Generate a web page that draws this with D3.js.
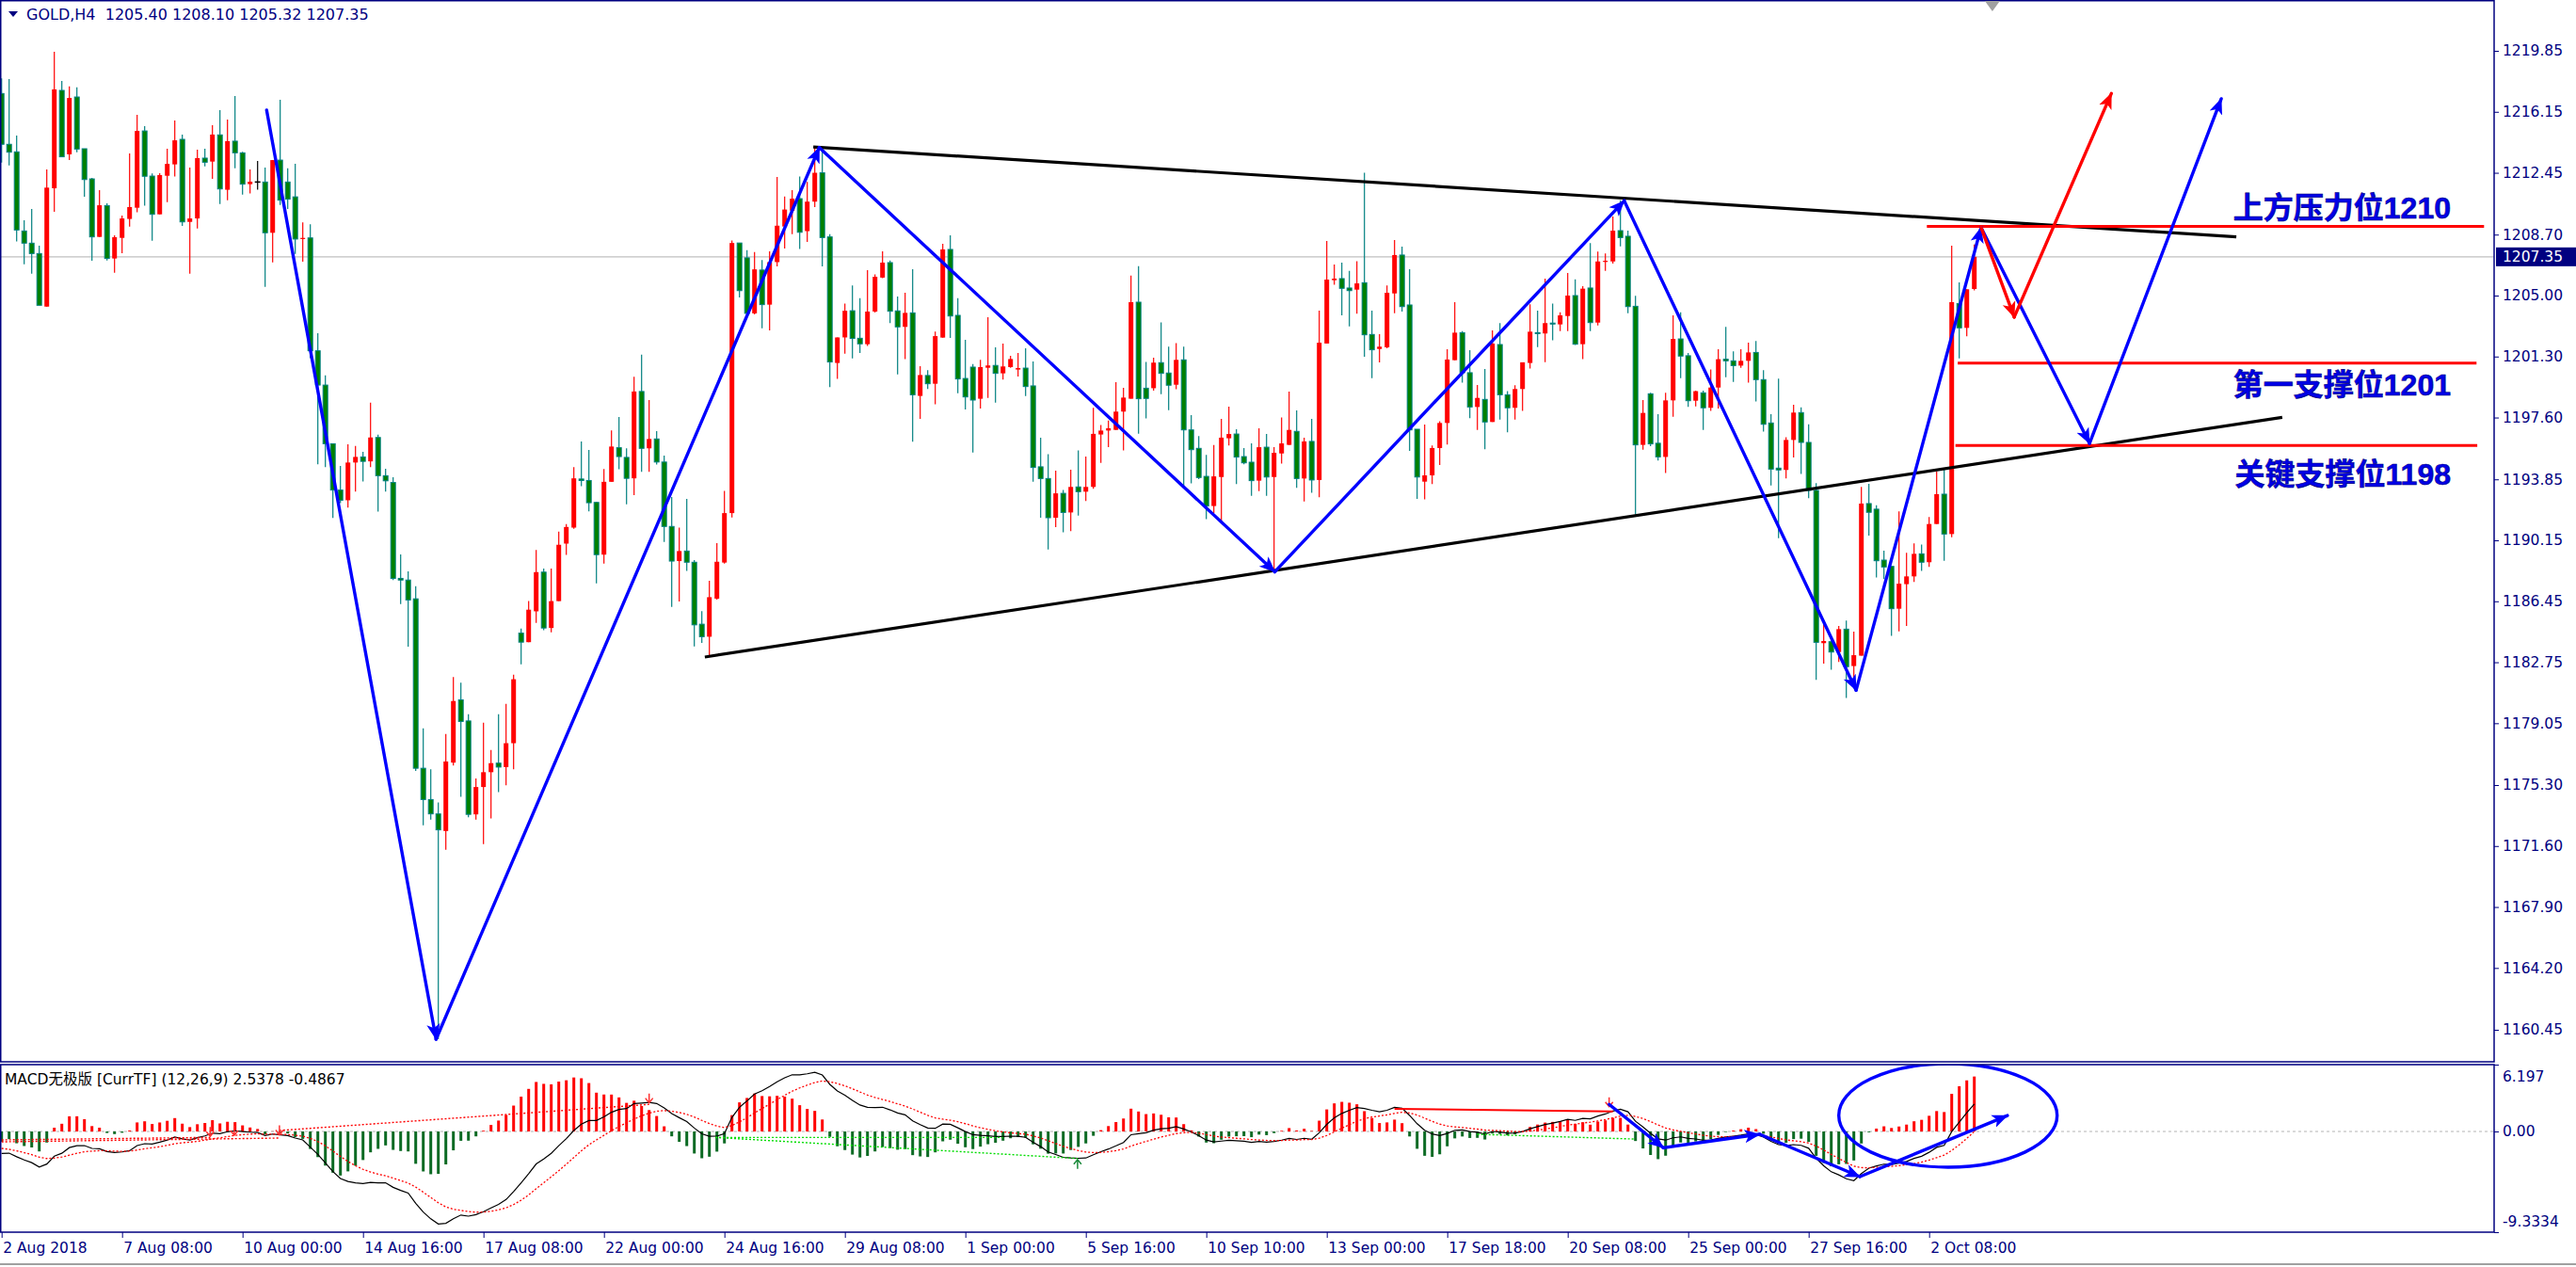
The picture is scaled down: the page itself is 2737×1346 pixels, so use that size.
<!DOCTYPE html>
<html>
<head>
<meta charset="utf-8">
<script src="https://cdn.jsdelivr.net/npm/d3@7"></script>
<style>
  body { margin: 0; background: #fff; }
  svg { display: block; font-family: "DejaVu Sans", sans-serif; }
  .axis text { fill: #000080; font-size: 15.5px; font-family: "DejaVu Sans", sans-serif; }
  .axis line { stroke: #000080; }
  .axis path { display: none; }
</style>
</head>
<body>
<div id="chart"></div>
<script>
//Candles, one entry per H4 bar (2 Aug 16:00 .. 3 Oct 08:00).
const opens = [
1217.26,1214.18,1213.72,1208.92,1208.18,1207.55,1204.33,1211.51,1217.45,1213.57,
1217.05,1213.91,1212.08,1208.56,1210.46,1207.25,1208.50,1209.65,1210.33,1214.99,
1212.25,1209.93,1212.27,1212.96,1214.48,1209.47,1209.68,1213.34,1213.13,1214.75,
1211.42,1214.37,1213.66,1211.76,1211.89,1211.89,1208.81,1213.22,1211.89,1210.99,
1208.43,1208.50,1201.65,1199.57,1196.01,1193.20,1192.58,1194.87,1195.21,1194.94,
1196.39,1194.07,1193.66,1187.84,1187.74,1186.60,1176.32,1174.42,1173.55,1172.51,
1176.66,1180.47,1179.19,1173.52,1175.18,1176.08,1176.63,1176.39,1177.84,1184.52,
1183.97,1185.84,1188.22,1184.83,1186.46,1189.95,1190.92,1193.87,1193.78,1192.45,
1189.28,1193.70,1195.77,1195.18,1193.91,1199.18,1195.73,1196.30,1194.90,1190.99,
1188.89,1189.50,1188.82,1185.06,1184.30,1186.61,1188.80,1191.80,1208.19,1207.29,
1203.92,1206.55,1204.45,1207.03,1209.19,1210.15,1210.88,1208.91,1210.70,1212.45,
1208.56,1200.91,1202.46,1204.08,1202.41,1202.05,1204.03,1206.09,1207.00,1204.07,
1203.10,1203.95,1198.91,1200.15,1199.65,1202.45,1207.80,1203.80,1199.97,1200.66,
1198.74,1200.62,1200.76,1200.28,1200.66,1200.51,1200.60,1199.52,1194.61,1193.90,
1191.52,1193.00,1191.84,1193.39,1193.10,1193.39,1196.57,1196.81,1196.85,1197.96,
1198.74,1204.60,1199.38,1199.38,1200.93,1200.30,1199.59,1201.10,1196.85,1195.73,
1194.03,1192.23,1193.99,1196.34,1196.60,1195.23,1194.89,1193.77,1195.80,1193.99,
1195.42,1195.94,1196.76,1193.90,1196.15,1193.81,1202.09,1205.93,1206.03,1205.46,
1205.36,1205.78,1202.64,1201.76,1201.86,1205.13,1207.46,1204.43,1196.89,1193.71,
1194.09,1195.75,1197.27,1201.08,1202.75,1200.32,1198.24,1198.70,1197.33,1202.03,
1198.98,1198.19,1199.33,1200.91,1202.75,1202.70,1203.33,1203.25,1203.76,1205.00,
1202.05,1205.46,1203.36,1207.04,1207.07,1208.94,1208.60,1204.35,1195.94,1199.04,
1196.04,1195.21,1198.64,1202.37,1201.35,1198.62,1199.10,1198.19,1199.42,1201.14,
1201.04,1200.75,1201.04,1201.55,1199.90,1197.27,1194.53,1194.42,1196.24,1197.90,
1196.09,1193.18,1183.91,1184.00,1183.37,1184.76,1182.52,1183.15,1192.38,1192.04,
1188.95,1188.57,1186.00,1187.49,1187.96,1189.33,1188.82,1191.14,1192.95,1190.53,
1204.52,1203.04,1205.40];

const highs = [
1218.18,1218.14,1214.71,1209.57,1210.26,1208.03,1212.65,1219.79,1218.02,1217.70,
1217.64,1213.91,1212.14,1211.40,1210.60,1208.66,1209.86,1213.62,1215.97,1215.28,
1212.41,1212.43,1213.91,1215.62,1214.77,1212.77,1213.85,1213.91,1215.34,1216.25,
1215.68,1217.11,1213.72,1212.65,1213.17,1212.77,1213.22,1216.88,1212.73,1213.00,
1209.44,1209.33,1202.72,1200.16,1196.01,1194.66,1195.97,1195.87,1195.52,1198.50,
1196.56,1194.49,1193.97,1189.30,1188.26,1187.36,1178.74,1176.25,1174.24,1178.40,
1181.86,1181.51,1179.60,1175.70,1179.09,1177.43,1179.60,1180.23,1182.00,1184.80,
1186.46,1189.57,1188.43,1188.43,1190.68,1191.13,1194.59,1196.15,1195.64,1192.49,
1194.48,1196.82,1197.63,1195.73,1200.08,1201.41,1198.66,1196.78,1195.29,1192.78,
1190.92,1192.67,1188.95,1185.85,1187.69,1189.98,1193.15,1208.34,1208.19,1207.75,
1207.64,1207.16,1207.69,1212.19,1211.01,1211.40,1212.23,1211.90,1214.02,1213.90,
1208.73,1202.46,1204.52,1205.61,1204.85,1206.54,1206.28,1207.69,1207.13,1204.94,
1205.17,1206.60,1200.72,1200.47,1202.81,1208.14,1208.66,1204.85,1202.32,1200.85,
1201.10,1203.69,1201.86,1202.09,1201.34,1201.52,1201.80,1201.00,1196.38,1195.37,
1194.38,1193.20,1194.43,1195.61,1195.23,1198.19,1197.14,1197.42,1199.75,1199.40,
1206.22,1206.79,1200.98,1201.23,1203.37,1201.90,1202.12,1201.90,1197.75,1196.47,
1195.33,1195.94,1197.52,1198.26,1196.89,1195.75,1196.03,1196.95,1196.60,1195.80,
1197.61,1199.17,1198.03,1196.38,1197.52,1204.09,1208.31,1206.89,1207.00,1206.50,
1207.08,1212.46,1204.09,1202.66,1205.61,1208.37,1207.97,1206.60,1196.89,1197.18,
1195.90,1197.37,1201.74,1204.60,1202.85,1201.69,1199.57,1200.55,1202.89,1203.33,
1199.20,1199.56,1200.95,1204.47,1204.09,1206.03,1204.52,1203.99,1206.37,1205.99,
1205.57,1208.18,1207.67,1207.55,1209.80,1210.79,1208.94,1204.98,1198.66,1199.10,
1197.80,1199.10,1203.80,1203.99,1201.52,1199.23,1199.23,1200.51,1201.74,1203.10,
1201.61,1201.74,1202.15,1202.24,1200.47,1197.80,1199.96,1196.41,1198.37,1198.22,
1197.19,1193.62,1185.05,1184.19,1184.95,1185.28,1184.61,1193.39,1193.58,1192.28,
1189.52,1188.57,1191.90,1189.39,1189.96,1189.90,1191.56,1194.32,1194.47,1208.03,
1205.80,1205.38,1208.10];

const lows = [
1213.07,1212.90,1208.28,1206.90,1206.33,1204.41,1204.33,1210.08,1213.42,1213.22,
1213.70,1211.00,1207.11,1208.56,1207.13,1206.39,1207.57,1209.19,1210.05,1210.45,
1208.33,1209.93,1210.67,1212.22,1209.23,1206.33,1209.07,1212.84,1212.08,1210.56,
1210.79,1212.73,1211.13,1211.19,1211.42,1205.53,1207.02,1210.50,1210.26,1207.53,
1207.05,1201.20,1194.76,1194.59,1191.51,1192.41,1192.13,1193.10,1193.72,1194.59,
1191.89,1193.10,1187.74,1186.28,1183.69,1176.15,1172.86,1173.20,1159.88,1171.37,
1176.49,1174.59,1173.34,1173.20,1171.72,1173.27,1174.87,1175.28,1176.25,1182.62,
1183.97,1185.14,1184.69,1184.56,1186.46,1189.26,1190.85,1193.43,1191.91,1187.53,
1188.74,1193.70,1194.46,1192.34,1192.89,1194.31,1194.31,1194.75,1190.05,1186.11,
1186.44,1188.30,1183.71,1183.93,1183.16,1186.55,1188.74,1191.53,1204.89,1203.92,
1203.86,1203.01,1202.88,1206.77,1207.86,1208.73,1207.83,1208.25,1210.37,1206.77,
1199.44,1199.95,1201.48,1201.19,1201.52,1201.94,1203.97,1206.05,1203.33,1200.22,
1201.14,1196.13,1197.52,1199.33,1198.41,1202.45,1202.43,1199.08,1198.09,1195.48,
1198.15,1198.79,1198.51,1199.90,1200.62,1200.09,1198.91,1193.71,1191.52,1189.60,
1190.95,1190.63,1190.70,1191.65,1192.53,1193.27,1194.85,1195.81,1196.85,1195.61,
1198.74,1196.62,1197.54,1199.23,1199.02,1198.05,1199.31,1193.42,1193.61,1193.86,
1191.43,1191.81,1191.24,1195.90,1193.56,1194.76,1192.85,1193.14,1192.85,1188.40,
1194.80,1195.94,1193.33,1192.51,1193.04,1192.76,1202.09,1205.65,1203.80,1203.13,
1203.90,1201.29,1199.99,1200.94,1201.80,1203.93,1204.03,1195.58,1192.66,1192.63,
1193.56,1194.72,1195.96,1201.08,1199.71,1197.56,1196.85,1195.67,1197.33,1197.48,
1196.70,1197.48,1198.00,1200.57,1201.88,1200.96,1202.28,1202.85,1202.85,1202.00,
1201.14,1202.85,1203.19,1206.50,1206.94,1207.99,1203.93,1191.71,1195.65,1195.86,
1194.99,1194.23,1197.65,1199.99,1198.24,1198.28,1196.85,1198.00,1198.15,1200.05,
1199.76,1200.62,1199.71,1198.57,1196.74,1193.48,1190.28,1193.90,1195.18,1194.17,
1192.70,1181.68,1182.67,1182.29,1182.77,1180.58,1181.43,1183.15,1190.44,1187.90,
1187.81,1184.35,1184.63,1184.95,1187.62,1188.29,1188.53,1191.14,1188.91,1190.34,
1201.19,1202.53,1205.32];

const closes = [
1214.18,1213.70,1208.98,1208.18,1207.55,1204.41,1211.55,1217.51,1213.42,1216.99,
1213.89,1212.04,1208.56,1210.48,1207.25,1208.54,1209.68,1210.37,1214.99,1212.24,
1209.93,1212.31,1212.99,1214.42,1209.47,1209.68,1213.34,1213.09,1214.77,1211.47,
1214.37,1213.66,1211.76,1211.91,1211.89,1208.81,1213.22,1210.79,1210.85,1208.43,
1208.50,1201.65,1199.57,1196.01,1193.20,1192.58,1194.87,1195.21,1194.94,1196.39,
1194.07,1193.76,1187.84,1187.74,1186.53,1176.32,1174.42,1173.55,1172.58,1176.73,
1180.40,1179.16,1173.52,1175.18,1176.08,1176.63,1176.39,1177.84,1181.72,1183.97,
1185.94,1188.22,1184.83,1186.46,1189.88,1190.96,1193.91,1193.78,1192.43,1189.28,
1193.70,1195.84,1195.23,1193.91,1199.18,1195.73,1196.30,1194.90,1190.99,1188.89,
1189.50,1188.82,1185.02,1184.30,1186.70,1188.85,1191.80,1208.19,1205.30,1203.92,
1206.59,1204.45,1207.03,1209.24,1210.22,1210.88,1208.84,1210.70,1212.45,1208.52,
1200.97,1202.46,1204.08,1202.40,1202.07,1204.03,1206.14,1207.00,1204.05,1203.10,
1203.95,1198.98,1200.18,1199.65,1202.54,1207.80,1203.76,1199.94,1198.85,1198.66,
1200.66,1200.76,1200.28,1200.70,1201.15,1200.60,1199.48,1194.57,1193.90,1191.52,
1193.00,1191.84,1193.39,1193.10,1193.39,1196.61,1196.81,1196.95,1197.96,1198.81,
1204.60,1198.74,1198.76,1200.93,1200.28,1199.56,1201.10,1196.85,1195.65,1193.96,
1192.23,1194.03,1196.38,1196.60,1195.20,1194.85,1193.77,1195.80,1193.99,1195.46,
1196.03,1196.85,1193.90,1196.15,1193.81,1202.14,1205.97,1206.03,1205.44,1205.30,
1205.74,1202.62,1201.71,1201.90,1205.17,1207.46,1204.33,1196.85,1193.99,1194.09,
1195.75,1197.27,1201.12,1202.75,1200.32,1198.24,1198.79,1197.33,1202.09,1198.98,
1198.19,1199.33,1200.95,1202.81,1202.70,1203.33,1203.29,1203.80,1205.00,1202.05,
1205.42,1203.36,1207.07,1207.11,1208.94,1208.52,1204.33,1195.94,1197.88,1196.00,
1195.21,1198.64,1202.37,1201.33,1198.62,1199.20,1198.19,1199.42,1201.14,1201.04,
1200.75,1201.04,1201.55,1199.90,1197.19,1194.47,1194.42,1196.24,1197.90,1196.09,
1193.18,1183.96,1184.04,1183.37,1184.76,1182.48,1183.18,1192.38,1191.85,1188.91,
1188.53,1186.00,1187.52,1187.96,1189.33,1188.82,1191.14,1192.95,1190.53,1204.60,
1203.04,1205.38,1207.35];

//Axis labels.
const priceTicks = [1219.85,1216.15,1212.45,1208.70,1205.00,1201.30,1197.60,1193.85,
  1190.15,1186.45,1182.75,1179.05,1175.30,1171.60,1167.90,1164.20,1160.45];
const timeTickBars = [0,16,32,48,64,80,96,112,128,144,160,176,192,208,224,240,256];
const timeLabels = ["2 Aug 2018","7 Aug 08:00","10 Aug 00:00","14 Aug 16:00","17 Aug 08:00",
  "22 Aug 00:00","24 Aug 16:00","29 Aug 08:00","1 Sep 00:00","5 Sep 16:00","10 Sep 10:00",
  "13 Sep 00:00","17 Sep 18:00","20 Sep 08:00","25 Sep 00:00","27 Sep 16:00","2 Oct 08:00"];
const macdTicks = [6.197, 0, -9.3334];
const macdTickText = ["6.197", "0.00", "-9.3334"];
const bidPrice = 1207.35;
const headerText = "GOLD,H4\u00a0\u00a01205.40 1208.10 1205.32 1207.35";
const macdTitle = "MACD无极版 [CurrTF] (12,26,9) 2.5378 -0.4867";

//MACD(12,26,9) state just before the first visible bar.
const macdSeed = { ema12: 1215.4, ema26: 1217.5, dea: -1.45 };

//Hand drawn objects, as [bar, price].
const upperTrend = [[107.8, 1214.02], [296.8, 1208.56]];
const lowerTrend = [[93.4, 1183.07], [302.9, 1197.61]];
const bluePath = [[35.2,1216.25],[57.7,1159.88],[108.6,1213.98],[169.1,1188.24],[215.5,1210.75],
  [246.3,1181.05],[262.9,1209.13],[277.3,1196.03],[294.8,1216.94]];
const redPath = [[262.9,1209.13],[267.3,1203.69],[280.2,1217.26]];
const levelPrices = [1209.2, 1200.9, 1195.9];
const levelFrom = [255.7, 259.8, 259.5];
const levelTo = [329.7, 328.7, 328.8];
const levelText = ["上方压力位1210", "第一支撑位1201", "关键支撑位1198"];

//Objects in the MACD window, as [bar, value].
const macdBluePath = [[213.5,2.51],[220.7,-1.51],[233.5,-0.26],[246.8,-4.19],[266.4,1.48]];
const macdEllipse = { bar: 258.5, value: 1.49, bars: 14.5, span: 4.8 };
const macdRedLine = [[185, 2.10], [214, 1.85]];
const macdRedDots = [[[0,-0.78],[27.7,-0.55]], [[0,-0.96],[36.9,-0.61]], [[36.9,0.09],[86,2.51]]];
const macdGreenDots = [[[94.8,-0.55],[142.9,-2.50]], [[94.8,-0.55],[133,-0.55]], [[196,-0.26],[216.8,-0.70]]];
const macdDownArrows = [[27.7,-0.45],[30.9,-0.35],[36.9,-0.3],[86,2.65],[213.5,2.3]];
const macdUpArrows = [[142.9,-2.6]];

const W = 2737, H = 1346;
const plotRight = 2650;
const mainBottom = 1128, macdTop = 1131, macdBottom = 1309;
const navy = "#000080";

const svg = d3.select("#chart").append("svg").attr("width", W).attr("height", H);
svg.append("rect").attr("width", W).attr("height", H).attr("fill", "#fff");

const x = d3.scaleLinear().domain([0, 262]).range([1.7, 2097.7]);
const y = d3.scaleLinear().domain([1160.45, 1219.85]).range([1094, 54]);
const yM = d3.scaleLinear().domain(d3.extent(macdTicks)).range([macdBottom, macdTop]);

const defs = svg.append("defs");
defs.append("clipPath").attr("id", "clipMain").append("rect")
  .attr("x", 0).attr("y", 0).attr("width", plotRight).attr("height", mainBottom);
defs.append("clipPath").attr("id", "clipMacd").append("rect")
  .attr("x", 0).attr("y", macdTop).attr("width", plotRight).attr("height", macdBottom - macdTop);

function addArrow(id, color, size) {
  defs.append("marker").attr("id", id)
    .attr("viewBox", "0 0 10 10").attr("refX", 9.5).attr("refY", 5)
    .attr("markerWidth", size).attr("markerHeight", size)
    .attr("markerUnits", "userSpaceOnUse").attr("orient", "auto")
    .append("path").attr("d", "M0,0.8 L10,5 L0,9.2 L2.5,5 z").attr("fill", color);
}
addArrow("arrowBlue", "#0000ff", 17);
addArrow("arrowRed", "#ff0000", 17);

//---------- main window ----------
const main = svg.append("g").attr("clip-path", "url(#clipMain)");

//Bid line.
main.append("line").attr("x1", 0).attr("x2", plotRight)
  .attr("y1", y(bidPrice)).attr("y2", y(bidPrice))
  .attr("stroke", "#c0c0c0").attr("stroke-width", 1.2);

const bars = d3.range(closes.length).map(i => ({ i, o: opens[i], h: highs[i], l: lows[i], c: closes[i] }));
const wickColor = d => d.c > d.o ? "#ff0000" : (d.c < d.o ? "#008080" : "#000000");

main.append("g").selectAll("line").data(bars).enter().append("line")
  .attr("x1", d => x(d.i)).attr("x2", d => x(d.i))
  .attr("y1", d => y(d.h)).attr("y2", d => y(d.l))
  .attr("stroke", wickColor).attr("stroke-width", 1.2);

main.append("g").selectAll("rect").data(bars.filter(d => d.c !== d.o)).enter().append("rect")
  .attr("x", d => x(d.i) - 2.5)
  .attr("width", 5)
  .attr("y", d => y(Math.max(d.o, d.c)))
  .attr("height", d => Math.max(1, Math.abs(y(d.o) - y(d.c))))
  .attr("fill", d => d.c > d.o ? "#ff0000" : "#008000")
  .attr("stroke", d => d.c > d.o ? "none" : "#008080")
  .attr("stroke-width", 1);

//Doji bars get a short black tick.
main.append("g").selectAll("line").data(bars.filter(d => d.c === d.o)).enter().append("line")
  .attr("x1", d => x(d.i) - 3).attr("x2", d => x(d.i) + 3)
  .attr("y1", d => y(d.c)).attr("y2", d => y(d.c))
  .attr("stroke", "#000").attr("stroke-width", 1.5);

const line = d3.line().x(d => x(d[0])).y(d => y(d[1]));

//Triangle trend lines.
[upperTrend, lowerTrend].forEach(t => {
  main.append("path").attr("d", line(t))
    .attr("fill", "none").attr("stroke", "#000").attr("stroke-width", 3.2);
});

//Red support / resistance levels.
levelPrices.forEach((p, k) => {
  main.append("line")
    .attr("x1", x(levelFrom[k])).attr("x2", x(levelTo[k]))
    .attr("y1", y(p)).attr("y2", y(p))
    .attr("stroke", "#ff0000").attr("stroke-width", 3);
});

//Arrow paths: each leg carries its own arrow head.
function arrowLegs(g, pts, color, marker, lineFn) {
  for (let k = 1; k < pts.length; k++) {
    g.append("path").attr("d", lineFn([pts[k - 1], pts[k]]))
      .attr("fill", "none").attr("stroke", color).attr("stroke-width", 3.4)
      .attr("stroke-linecap", "round")
      .attr("marker-end", "url(#" + marker + ")");
  }
}
arrowLegs(main, bluePath, "#0000ff", "arrowBlue", line);
arrowLegs(main, redPath, "#ff0000", "arrowRed", line);

//Level captions.
const captionOffset = [-8.5, 34, 42];
levelText.forEach((t, k) => {
  svg.append("text")
    .attr("x", 2604).attr("y", y(levelPrices[k]) + captionOffset[k])
    .attr("text-anchor", "end")
    .attr("font-family", "'Liberation Sans', 'Noto Sans CJK SC', sans-serif")
    .attr("font-weight", "bold").attr("font-size", "32px")
    .attr("fill", "#0000e6").attr("stroke", "#00007a").attr("stroke-width", 0.6)
    .text(t);
});

//---------- MACD window ----------
const k12 = 2 / 13, k26 = 2 / 27, k9 = 2 / 10;
let e12 = macdSeed.ema12, e26 = macdSeed.ema26, sig = macdSeed.dea;
const dif = [], dea = [], hist = [];
closes.forEach(c => {
  e12 += (c - e12) * k12;
  e26 += (c - e26) * k26;
  const d = e12 - e26;
  sig += (d - sig) * k9;
  dif.push(d); dea.push(sig); hist.push(2 * (d - sig));
});

const macd = svg.append("g").attr("clip-path", "url(#clipMacd)");

macd.append("line").attr("x1", 0).attr("x2", plotRight)
  .attr("y1", yM(0)).attr("y2", yM(0))
  .attr("stroke", "#b4b4b4").attr("stroke-dasharray", "3,3");

macd.append("g").selectAll("rect").data(hist).enter().append("rect")
  .attr("x", (d, i) => x(i) - 1.5).attr("width", 3)
  .attr("y", d => d >= 0 ? yM(d) : yM(0))
  .attr("height", d => Math.abs(yM(d) - yM(0)))
  .attr("fill", d => d >= 0 ? "#ff0000" : "#0b6a23");

const mLine = d3.line().x(d => x(d[0])).y(d => yM(d[1]));

macd.append("path").attr("d", mLine(dif.map((v, i) => [i, v])))
  .attr("fill", "none").attr("stroke", "#000").attr("stroke-width", 1.2);
macd.append("path").attr("d", mLine(dea.map((v, i) => [i, v])))
  .attr("fill", "none").attr("stroke", "#ff0000").attr("stroke-width", 1.3)
  .attr("stroke-dasharray", "2,2");

macdRedDots.forEach(s => macd.append("path").attr("d", mLine(s))
  .attr("fill", "none").attr("stroke", "#ff0000").attr("stroke-width", 1.4).attr("stroke-dasharray", "2,2"));
macdGreenDots.forEach(s => macd.append("path").attr("d", mLine(s))
  .attr("fill", "none").attr("stroke", "#00dd00").attr("stroke-width", 1.4).attr("stroke-dasharray", "2,2"));

macdDownArrows.forEach(p => {
  const cx = x(p[0]), cy = yM(p[1]);
  macd.append("path").attr("d", `M${cx},${cy - 10}V${cy}M${cx - 4},${cy - 5}L${cx},${cy}L${cx + 4},${cy - 5}`)
    .attr("fill", "none").attr("stroke", "#ff3030").attr("stroke-width", 1.5);
});
macdUpArrows.forEach(p => {
  const cx = x(p[0]), cy = yM(p[1]);
  macd.append("path").attr("d", `M${cx},${cy + 10}V${cy}M${cx - 4},${cy + 5}L${cx},${cy}L${cx + 4},${cy + 5}`)
    .attr("fill", "none").attr("stroke", "#1a8a3a").attr("stroke-width", 1.5);
});

macd.append("path").attr("d", mLine(macdRedLine))
  .attr("fill", "none").attr("stroke", "#ff0000").attr("stroke-width", 2);

arrowLegs(macd, macdBluePath, "#0000ff", "arrowBlue", mLine);

macd.append("ellipse")
  .attr("cx", x(macdEllipse.bar)).attr("cy", yM(macdEllipse.value))
  .attr("rx", x(macdEllipse.bars) - x(0))
  .attr("ry", yM(0) - yM(macdEllipse.span))
  .attr("fill", "none").attr("stroke", "#0000ff").attr("stroke-width", 3.4);

svg.append("text").attr("x", 5).attr("y", 1152)
  .attr("font-family", "'DejaVu Sans', 'Noto Sans CJK SC', sans-serif")
  .attr("font-size", "15.5px").attr("fill", "#000")
  .text(macdTitle);

//---------- frames and axes ----------
svg.append("rect").attr("x", 0.75).attr("y", 0.75).attr("width", plotRight - 0.75).attr("height", mainBottom - 0.75)
  .attr("fill", "none").attr("stroke", navy).attr("stroke-width", 1.5);
svg.append("rect").attr("x", 0.75).attr("y", macdTop).attr("width", plotRight - 0.75).attr("height", macdBottom - macdTop)
  .attr("fill", "none").attr("stroke", navy).attr("stroke-width", 1.5);

svg.append("g").attr("class", "axis")
  .attr("transform", "translate(" + plotRight + ",0)")
  .call(d3.axisRight(y).tickValues(priceTicks).tickFormat(d3.format(".2f")).tickSize(5).tickPadding(4));

const mAxis = svg.append("g").attr("class", "axis")
  .attr("transform", "translate(" + plotRight + ",0)")
  .call(d3.axisRight(yM).tickValues(macdTicks).tickFormat((d, i) => macdTickText[i]).tickSize(5).tickPadding(4));
mAxis.selectAll("text").attr("dy", (d, i) => i === 0 ? "1.15em" : (i === 2 ? "-0.45em" : "0.32em"));

svg.append("g").attr("class", "axis")
  .attr("transform", "translate(0," + macdBottom + ")")
  .call(d3.axisBottom(x).tickValues(timeTickBars).tickFormat((d, i) => timeLabels[i]).tickSize(6).tickPadding(5))
  .selectAll("text").attr("text-anchor", "start").attr("x", 1);

//Bid price tag.
svg.append("rect").attr("x", plotRight + 2).attr("y", y(bidPrice) - 10).attr("width", W - plotRight - 2).attr("height", 20)
  .attr("fill", navy);
svg.append("text").attr("x", plotRight + 9).attr("y", y(bidPrice)).attr("dy", "0.35em")
  .attr("font-size", "15.5px").attr("fill", "#fff").text(bidPrice.toFixed(2));

//Chart shift marker and header.
svg.append("path")
  .attr("d", `M${x(264.4) - 8},1 L${x(264.4) + 8},1 L${x(264.4)},12 z`).attr("fill", "#a0a0a0");
svg.append("path").attr("d", "M9,12 L19,12 L14,18 z").attr("fill", navy);
svg.append("text").attr("x", 28).attr("y", 21)
  .attr("font-size", "16px").attr("fill", navy).text(headerText);

svg.append("line").attr("x1", 0).attr("x2", W).attr("y1", 1343).attr("y2", 1343)
  .attr("stroke", "#a0a0a0").attr("stroke-width", 2);
</script>
</body>
</html>
